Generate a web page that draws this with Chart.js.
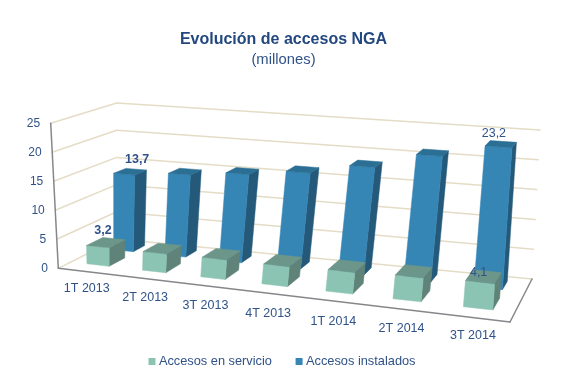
<!DOCTYPE html>
<html><head><meta charset="utf-8">
<style>html,body{margin:0;padding:0;background:#fff}canvas{display:block}</style>
<script src="https://cdn.jsdelivr.net/npm/chart.js@4"></script>
</head><body><canvas id="c" width="567" height="386"></canvas>
<script>
const categories = ['1T 2013','2T 2013','3T 2013','4T 2013','1T 2014','2T 2014','3T 2014'];
const enServicio = [3.2,3.2,3.3,3.3,3.5,3.8,4.1];
const instalados = [13.7,14.5,15.4,16.5,18.3,21,23.2];
const yTicks = [0,5,10,15,20,25];
const shownLabels = [
  {series:0,index:0,weight:'bold',dx:-3,dy:-12},
  {series:0,index:6,weight:'normal',dx:-5,dy:-4},
  {series:1,index:0,weight:'bold',dx:7,dy:-12},
  {series:1,index:6,weight:'normal',dx:-7,dy:-11}];

const TEXT='#2f5288', GRID='#e4dcc6', EDGE='#85878a';
const FLOOR=[[58.3,268.3],[510,322],[532,279],[116.7,239]];
const TOP=[[50.7,123.3],[520,157],[540,130],[116.7,103]];
const LABEL_WARP=0.065;
const ROWS=[{d0:0.2,d1:0.47,warp:0.085,front:'#8cc4b3',side:'#5f8279',top:'#6c968a'},
            {d0:0.67,d1:0.88,warp:0.02,front:'#3585b5',side:'#24597a',top:'#2b6f94'}];

function homography(q){
  const [x0,y0]=q[0],[x1,y1]=q[1],[x2,y2]=q[2],[x3,y3]=q[3];
  const dx1=x1-x2,dx2=x3-x2,sx=x0-x1+x2-x3,dy1=y1-y2,dy2=y3-y2,sy=y0-y1+y2-y3;
  const den=dx1*dy2-dx2*dy1,g=(sx*dy2-dx2*sy)/den,h=(dx1*sy-sx*dy1)/den;
  const a=x1-x0+g*x1,b=x3-x0+h*x3,d=y1-y0+g*y1,e=y3-y0+h*y3;
  return (u,v)=>{const w=g*u+h*v+1;return [(a*u+b*v+x0)/w,(d*u+e*v+y0)/w];};
}
const H0=homography(FLOOR),H1=homography(TOP);
function P(u,d,h){const a=H0(u,d),b=H1(u,d);return [a[0]+(b[0]-a[0])*h,a[1]+(b[1]-a[1])*h];}
function line(ctx,a,b,col,w){ctx.strokeStyle=col;ctx.lineWidth=w;ctx.beginPath();ctx.moveTo(a[0],a[1]);ctx.lineTo(b[0],b[1]);ctx.stroke();}
function quad(ctx,pts,col){ctx.fillStyle=col;ctx.beginPath();pts.forEach((p,i)=>i?ctx.lineTo(p[0],p[1]):ctx.moveTo(p[0],p[1]));ctx.closePath();ctx.fill();ctx.strokeStyle=col;ctx.lineWidth=0.5;ctx.stroke();}
const normH=(chart,v)=>{const y=chart.scales.y;return (y.bottom-y.getPixelForValue(v))/(y.bottom-y.top);};
const normU=(chart,px,warp)=>{const x=chart.scales.x,u=(px-x.left)/(x.right-x.left);return u+warp*u*(1-u);};

const scene={id:'scene',
  beforeDatasetsDraw(chart){
    const ctx=chart.ctx;ctx.save();ctx.lineCap='round';
    for(const t of yTicks){const h=normH(chart,t);
      line(ctx,P(0,0,h),P(0,1,h),GRID,1.5);
      line(ctx,P(0,1,h),P(1,1,h),GRID,1.5);}
    line(ctx,P(0,0,0),P(0,0,1),EDGE,1.5);
    line(ctx,P(0,0,0),P(1,0,0),EDGE,1.5);
    line(ctx,P(1,0,0),P(1,1,0),EDGE,1.5);
    ctx.font='12px "Liberation Sans"';ctx.fillStyle=TEXT;ctx.textBaseline='middle';ctx.textAlign='right';
    for(const t of yTicks){const p=P(0,0,normH(chart,t));ctx.fillText(String(t),p[0]-10.5,p[1]);}
    ctx.textAlign='center';ctx.font='12.5px "Liberation Sans"';
    const xs=chart.scales.x;
    categories.forEach((c,i)=>{const u=normU(chart,xs.getPixelForValue(i),LABEL_WARP);const p=P(u,0,0);
      ctx.fillText(xs.getLabelForValue(i),p[0]+22*u*(1-u),p[1]+15.5+20*u*(1-u)+u);});
    ctx.restore();
  },
  beforeDatasetDraw(chart,args){
    const ctx=chart.ctx,r=ROWS[args.index];
    ctx.save();
    args.meta.data.forEach(b=>{
      const u0=normU(chart,b.x-b.width/2,r.warp),u1=normU(chart,b.x+b.width/2,r.warp);
      const y=chart.scales.y,h=(y.bottom-b.y)/(y.bottom-y.top);
      quad(ctx,[P(u1,r.d0,0),P(u1,r.d1,0),P(u1,r.d1,h),P(u1,r.d0,h)],r.side);
      quad(ctx,[P(u0,r.d0,0),P(u1,r.d0,0),P(u1,r.d0,h),P(u0,r.d0,h)],r.front);
      quad(ctx,[P(u0,r.d0,h),P(u1,r.d0,h),P(u1,r.d1,h),P(u0,r.d1,h)],r.top);
    });
    ctx.restore();
    return false;
  },
  afterDatasetsDraw(chart){
    const ctx=chart.ctx;ctx.save();ctx.fillStyle=TEXT;ctx.textAlign='center';ctx.textBaseline='middle';
    for(const l of shownLabels){
      const ds=chart.data.datasets[l.series],r=ROWS[l.series],b=chart.getDatasetMeta(l.series).data[l.index];
      const y=chart.scales.y,h=(y.bottom-b.y)/(y.bottom-y.top);
      const p=P(normU(chart,b.x,r.warp),(r.d0+r.d1)/2,h);
      ctx.font=l.weight+' 12.5px "Liberation Sans"';
      ctx.fillText(ds.data[l.index].toFixed(1).replace('.',','),p[0]+l.dx,p[1]+l.dy);
    }
    ctx.restore();
  }};

new Chart(document.getElementById('c'),{
  type:'bar',
  data:{labels:categories,datasets:[
    {label:'Accesos en servicio',data:enServicio,backgroundColor:ROWS[0].front,barPercentage:0.405},
    {label:'Accesos instalados',data:instalados,backgroundColor:ROWS[1].front,barPercentage:0.39}]},
  options:{responsive:false,animation:false,
    layout:{padding:{top:27,bottom:8}},
    datasets:{bar:{grouped:false,categoryPercentage:1}},
    scales:{x:{display:false},y:{display:false,min:0,max:25}},
    plugins:{
      title:{display:true,text:'Evolución de accesos NGA',color:'#23487f',font:{family:'"Liberation Sans"',size:16,weight:'bold'},padding:{top:3,bottom:0}},
      subtitle:{display:true,text:'(millones)',color:'#2f5288',font:{family:'"Liberation Sans"',size:14.8,weight:'normal'},padding:{top:2,bottom:0}},
      legend:{position:'bottom',labels:{color:TEXT,font:{family:'"Liberation Sans"',size:12.8},usePointStyle:true,pointStyle:'rect',boxWidth:1,boxHeight:7,padding:26.6}},
      tooltip:{enabled:false}}
  },
  plugins:[scene]
});
</script></body></html>
